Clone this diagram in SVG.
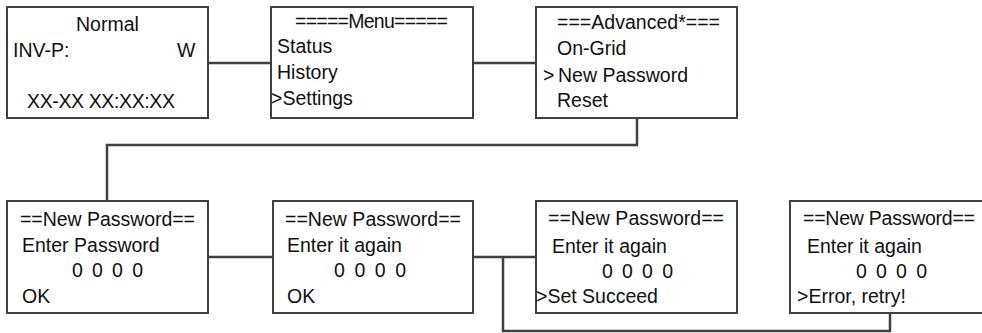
<svg xmlns="http://www.w3.org/2000/svg" width="982" height="333" viewBox="0 0 982 333">
<style>
.box{fill:#fff;stroke:#404040;stroke-width:2}
.t{font-family:"Liberation Sans",Arial,sans-serif;font-size:19.5px;fill:#111}
.c{fill:none;stroke:#404040;stroke-width:2.5}
</style>
<rect width="982" height="333" fill="#fff"/>
<g id="connectors">
<path class="c" d="M208 63H271"/>
<path class="c" d="M473 63H536"/>
<path class="c" d="M637 118V145H107V201"/>
<path class="c" d="M208 257H273"/>
<path class="c" d="M473 257H536"/>
<path class="c" d="M503 257V331H890V314"/>
</g>
<g id="normal">
<rect class="box" x="7" y="7" width="201" height="111"/>
<text class="t" x="76" y="31">Normal</text>
<text class="t" x="13" y="57">INV-P:</text>
<text class="t" x="177" y="57">W</text>
<text class="t" x="27" y="108" textLength="148">XX-XX XX:XX:XX</text>
</g>
<g id="menu">
<rect class="box" x="271" y="7" width="202" height="111"/>
<text class="t" x="295" y="28" textLength="153">=====Menu=====</text>
<text class="t" x="277" y="53">Status</text>
<text class="t" x="277" y="79">History</text>
<text class="t" x="271" y="105">&gt;Settings</text>
</g>
<g id="advanced">
<rect class="box" x="536" y="7" width="201" height="111"/>
<text class="t" x="557" y="29" textLength="163">===Advanced*===</text>
<text class="t" x="557" y="55">On-Grid</text>
<text class="t" x="543" y="82">&gt;</text>
<text class="t" x="558" y="82">New Password</text>
<text class="t" x="557" y="107">Reset</text>
</g>
<g id="newpw1">
<rect class="box" x="7" y="201" width="201" height="112"/>
<text class="t" x="20" y="226" textLength="175">==New Password==</text>
<text class="t" x="22" y="252">Enter Password</text>
<text class="t" x="72" y="277" textLength="71">0 0 0 0</text>
<text class="t" x="22" y="303">OK</text>
</g>
<g id="newpw2">
<rect class="box" x="273" y="201" width="200" height="112"/>
<text class="t" x="285" y="226" textLength="176">==New Password==</text>
<text class="t" x="287" y="252">Enter it again</text>
<text class="t" x="334" y="277" textLength="72">0 0 0 0</text>
<text class="t" x="287" y="303">OK</text>
</g>
<g id="newpw3">
<rect class="box" x="536" y="201" width="201" height="112"/>
<text class="t" x="548" y="225" textLength="176">==New Password==</text>
<text class="t" x="552" y="253">Enter it again</text>
<text class="t" x="602" y="278" textLength="71">0 0 0 0</text>
<text class="t" x="536" y="303">&gt;Set Succeed</text>
</g>
<g id="newpw4">
<rect class="box" x="790" y="201" width="201" height="112"/>
<text class="t" x="803" y="225" textLength="172">==New Password==</text>
<text class="t" x="807" y="253">Enter it again</text>
<text class="t" x="856" y="278" textLength="71">0 0 0 0</text>
<text class="t" x="797" y="303">&gt;Error, retry!</text>
</g>
</svg>
